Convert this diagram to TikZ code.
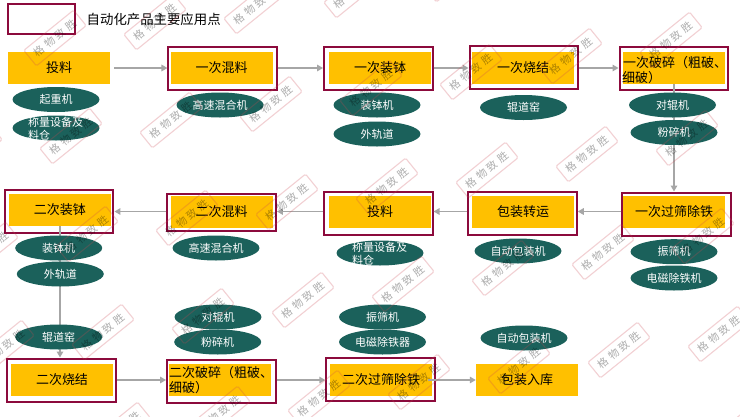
\documentclass[tikz,border=0pt]{standalone}
\usepackage{fontspec}
\setmainfont{Noto Sans CJK SC}
\usepackage{xcolor}
\usetikzlibrary{shapes.geometric,arrows.meta,positioning,calc}
\definecolor{procyellow}{RGB}{255,192,0}
\definecolor{framered}{RGB}{140,10,60}
\definecolor{equipgreen}{RGB}{27,97,91}
\definecolor{flowgray}{RGB}{166,166,166}
\definecolor{stampred}{RGB}{205,70,80}
\tikzset{
  procbox/.style={fill=procyellow, minimum width=102pt, minimum height=32pt, inner sep=0pt, font=\fontsize{13}{15}\selectfont},
  autoframe/.style={draw=framered, line width=2pt, minimum width=108.5pt, minimum height=43pt, inner sep=0pt},
  equip/.style={ellipse, fill=equipgreen, minimum width=87pt, minimum height=25pt, inner sep=0pt, text=white, font=\fontsize{11}{13}\selectfont},
  flow/.style={draw=flowgray, line width=1.5pt, -{Triangle[length=6pt,width=6.5pt]}},
  stamp/.style={draw=stampred, line width=1.1pt, rounded corners=1.5pt, rotate=39, minimum width=64pt, minimum height=20pt, inner sep=0pt, opacity=.25, text opacity=.32, font=\fontsize{10.5}{12}\selectfont}
}
\newcommand{\twolines}[2]{\smash{\raisebox{-4pt}{\parbox[c]{56pt}{\fontsize{11}{13}\selectfont #1\\#2}}}}
\begin{document}
\begin{tikzpicture}[x=1pt,y=-1pt]
\fill[white] (0,0) rectangle (740,416);
\useasboundingbox (0,0) rectangle (740,416);
% legend
\node[autoframe, minimum width=67pt, minimum height=30pt] (legend) at (41.5,19) {};
\node[anchor=west, inner sep=0pt, font=\fontsize{13.4}{15}\selectfont] (legendtext) at (86.5,19) {自动化产品主要应用点};
% frames
\node[autoframe] (mix1frame) at (222.7,68.2) {};
\node[autoframe] (load1frame) at (378.3,68.2) {};
\node[autoframe] (sinter1frame) at (523.8,67) {};
\node[autoframe] (crush1frame) at (673.8,68.6) {};
\node[autoframe] (load2frame) at (59.2,211.8) {};
\node[autoframe, minimum height=37.5pt] (mix2frame) at (221.7,212.4) {};
\node[autoframe] (feed2frame) at (378.3,213) {};
\node[autoframe] (pack1frame) at (522.5,213) {};
\node[autoframe] (screen1frame) at (676.5,214) {};
\node[autoframe] (sinter2frame) at (61.3,380) {};
\node[autoframe] (crush2frame) at (221.3,381) {};
\node[autoframe] (screen2frame) at (380.5,379) {};
% process boxes
\node[procbox] (feed1) at (59,68) {投料};
\node[procbox] (mix1) at (221.5,68) {一次混料};
\node[procbox] (load1) at (380,68) {一次装钵};
\node[procbox] (sinter1) at (523,68) {一次烧结};
\node[procbox, align=left, text width=102pt] (crush1) at (674,68) {\hspace{-1pt}一次破碎（粗破、\\\hspace{-1pt}细破）};
\node[procbox] (screen1) at (674,212) {一次过筛除铁};
\node[procbox] (pack1) at (523,211.5) {包装转运};
\node[procbox] (feed2) at (380,211.5) {投料};
\node[procbox] (mix2) at (221.5,211.5) {二次混料};
\node[procbox] (load2) at (60,210) {二次装钵};
\node[procbox] (sinter2) at (62,380) {二次烧结};
\node[procbox, align=left, text width=102pt] (crush2) at (220,380) {二次破碎（粗破、\\细破）};
\node[procbox] (screen2) at (381,379.5) {二次过筛除铁};
\node[procbox] (store) at (527,380) {包装入库};
% flow
\draw[flow] (feed1.east) ++(4,0) -- (mix1frame.west |- feed1.east);
\draw[flow] (mix1frame.east |- mix1.east) -- (load1frame.west |- mix1.east);
\draw[flow] (load1frame.east |- load1.east) -- (sinter1frame.west |- load1.east);
\draw[flow] (sinter1frame.east |- sinter1.east) -- (crush1frame.west |- sinter1.east);
\draw[flow] (crush1.south) -- (crush1.south |- screen1frame.north);
\draw[flow] (screen1frame.west |- pack1.east) -- (pack1frame.east |- pack1.east);
\draw[flow] (pack1frame.west |- pack1.west) -- (feed2frame.east |- pack1.west);
\draw[flow] (feed2frame.west |- feed2.west) -- (mix2frame.east |- feed2.west);
\draw[flow] (mix2frame.west |- mix2.west) -- (load2frame.east |- mix2.west);
\draw[flow] (load2.south) -- (load2.south |- sinter2frame.north);
\draw[flow] (sinter2frame.east |- sinter2.east) -- (crush2frame.west |- sinter2.east);
\draw[flow] (crush2frame.east |- crush2.east) -- (screen2frame.west |- crush2.east);
\draw[flow] (screen2frame.east |- store.west) ++(-8,0) -- (store.west);
% equipment
\node[equip] (crane) at (56,99.5) {起重机};
\node[equip] (scale1) at (56,128) {\twolines{称量设备及}{料仓}};
\node[equip] (blender1) at (220,105) {高速混合机};
\node[equip] (loader1) at (377,105) {装钵机};
\node[equip] (rail1) at (377,134) {外轨道};
\node[equip] (kiln1) at (523.5,107.5) {辊道窑};
\node[equip] (roller1) at (672.5,105) {对辊机};
\node[equip] (grinder1) at (674,132.5) {粉碎机};
\node[equip] (loader2) at (58.7,248) {装钵机};
\node[equip] (rail2) at (60.3,274) {外轨道};
\node[equip] (blender2) at (216,248) {高速混合机};
\node[equip] (scale2) at (380,253) {\twolines{称量设备及}{料仓}};
\node[equip] (packer1) at (518,251) {自动包装机};
\node[equip] (shaker1) at (674,251.7) {振筛机};
\node[equip] (magnet1) at (674,278) {电磁除铁机};
\node[equip] (kiln2) at (58.7,337) {辊道窑};
\node[equip] (roller2) at (218,317) {对辊机};
\node[equip] (grinder2) at (217.7,342) {粉碎机};
\node[equip] (shaker2) at (382.5,317) {振筛机};
\node[equip] (magnet2) at (382.5,342) {电磁除铁器};
\node[equip] (packer2) at (524,338) {自动包装机};
% watermark
\foreach \i in {-5,...,3}
  \foreach \j in {-2,...,4}
    \node[stamp] (stamp\i\j) at ({471+100*\i+16*\j},{72-16*\i+98*\j}) {格\hspace{3pt}物\hspace{3pt}致\hspace{3pt}胜};
\end{tikzpicture}
\end{document}
